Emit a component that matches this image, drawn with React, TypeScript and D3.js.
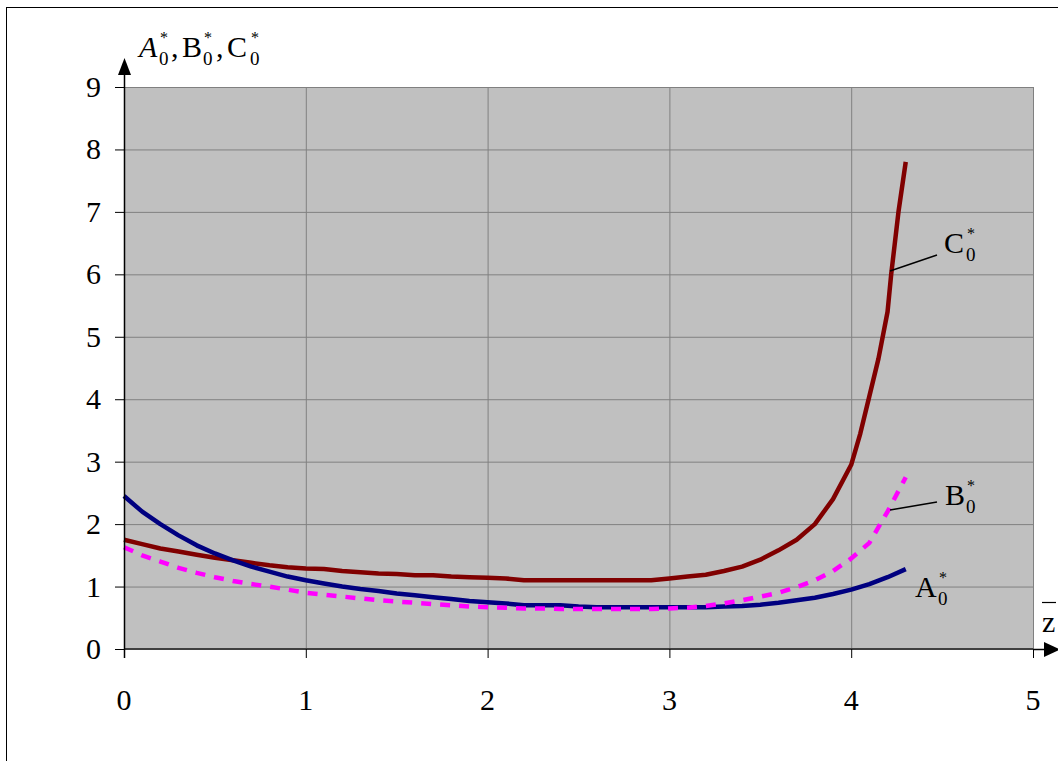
import React from "react";
import * as d3 from "d3";

const zValues = [0, 0.1, 0.2, 0.3, 0.4, 0.5, 0.6, 0.7, 0.8, 0.9, 1.0, 1.1, 1.2, 1.3, 1.4, 1.5, 1.6, 1.7, 1.8, 1.9, 2.0, 2.1, 2.2, 2.3, 2.4, 2.5, 2.6, 2.7, 2.8, 2.9, 3.0, 3.1, 3.2, 3.3, 3.4, 3.5, 3.6, 3.7, 3.8, 3.9, 4.0, 4.1, 4.2, 4.3];

const A0 = [2.45, 2.2, 2.0, 1.82, 1.66, 1.53, 1.42, 1.32, 1.24, 1.16, 1.1, 1.05, 1.0, 0.96, 0.93, 0.89, 0.86, 0.83, 0.8, 0.77, 0.75, 0.73, 0.7, 0.7, 0.7, 0.68, 0.67, 0.67, 0.67, 0.67, 0.67, 0.67, 0.67, 0.68, 0.69, 0.71, 0.74, 0.78, 0.82, 0.88, 0.95, 1.04, 1.15, 1.28];

const B0 = [1.63, 1.5, 1.4, 1.3, 1.22, 1.15, 1.09, 1.04, 1.0, 0.95, 0.9, 0.87, 0.84, 0.81, 0.78, 0.76, 0.74, 0.72, 0.7, 0.68, 0.67, 0.66, 0.65, 0.65, 0.64, 0.64, 0.64, 0.64, 0.64, 0.64, 0.65, 0.66, 0.69, 0.73, 0.78, 0.84, 0.9, 0.99, 1.1, 1.25, 1.45, 1.7, 2.2, 2.75];

const zC0 = [0, 0.1, 0.2, 0.3, 0.4, 0.5, 0.6, 0.7, 0.8, 0.9, 1.0, 1.1, 1.2, 1.3, 1.4, 1.5, 1.6, 1.7, 1.8, 1.9, 2.0, 2.1, 2.2, 2.3, 2.4, 2.5, 2.6, 2.7, 2.8, 2.9, 3.0, 3.1, 3.2, 3.3, 3.4, 3.5, 3.6, 3.7, 3.8, 3.9, 4.0, 4.05, 4.1, 4.15, 4.2, 4.22, 4.26, 4.3];
const C0 = [1.75, 1.68, 1.61, 1.56, 1.51, 1.46, 1.42, 1.38, 1.34, 1.31, 1.29, 1.28, 1.25, 1.23, 1.21, 1.2, 1.18, 1.18, 1.16, 1.15, 1.14, 1.13, 1.1, 1.1, 1.1, 1.1, 1.1, 1.1, 1.1, 1.1, 1.13, 1.16, 1.19, 1.25, 1.32, 1.43, 1.58, 1.75, 2.0, 2.4, 2.95, 3.45, 4.05, 4.65, 5.4, 6.0, 7.0, 7.8];

const xTicks = [0, 1, 2, 3, 4, 5];
const yTicks = [0, 1, 2, 3, 4, 5, 6, 7, 8, 9];

const W = 1058;
const H = 761;
const left = 124, right = 1033, top = 87, bottom = 649;
const FONT = "Liberation Serif, Times New Roman, serif";

const x = d3.scaleLinear().domain([0, 5]).range([left, right]);
const y = d3.scaleLinear().domain([0, 9]).range([bottom, top]);

const line = d3
  .line<[number, number]>()
  .x((d) => x(d[0]))
  .y((d) => y(d[1]));

// letter + subscript 0 + superscript *
function Sym({ px, py, letter, italic, w }: { px: number; py: number; letter: string; italic?: boolean; w: number }) {
  return (
    <g fontFamily={FONT} fill="#000">
      <text x={px} y={py} fontSize={30} fontStyle={italic ? "italic" : "normal"}>{letter}</text>
      <text x={px + w} y={py + 8} fontSize={19}>0</text>
      <text x={px + w + 1} y={py - 14} fontSize={16}>*</text>
    </g>
  );
}

export default function App() {
  const pA = line(zValues.map((z, i) => [z, A0[i]] as [number, number]))!;
  const pB = line(zValues.map((z, i) => [z, B0[i]] as [number, number]))!;
  const pC = line(zC0.map((z, i) => [z, C0[i]] as [number, number]))!;
  return (
    <svg width={W} height={H} style={{ position: "absolute", left: 0, top: 0, background: "#fff" }}>
      <rect x={6.5} y={7.5} width={1100} height={800} fill="#fff" stroke="#000" strokeWidth={1} />
      <rect x={left} y={top} width={right - left} height={bottom - top} fill="#c0c0c0" />
      {yTicks.map((t) => (
        <line key={"gy" + t} x1={left} x2={right} y1={y(t) + 0.5} y2={y(t) + 0.5} stroke="#808080" strokeWidth={1} />
      ))}
      {xTicks.map((t) => (
        <line key={"gx" + t} x1={x(t) + 0.5} x2={x(t) + 0.5} y1={top} y2={bottom} stroke="#808080" strokeWidth={1} />
      ))}
      {/* curves */}
      <path d={pC} fill="none" stroke="#800000" strokeWidth={4.5} strokeLinejoin="round" />
      <path d={pA} fill="none" stroke="#000080" strokeWidth={4.5} strokeLinejoin="round" />
      <path d={pB} fill="none" stroke="#ff00ff" strokeWidth={4.5} strokeDasharray="10,9" />
      {/* axes */}
      <line x1={left} x2={right} y1={bottom} y2={bottom} stroke="#404040" strokeWidth={2} />
      <line x1={left + 0.5} x2={left + 0.5} y1={bottom + 9} y2={70} stroke="#000" strokeWidth={1.5} />
      <path d={`M${left + 0.5},58 L${left - 6},75 L${left + 7},75 Z`} fill="#000" />
      <line x1={right} x2={1046} y1={bottom + 0.5} y2={bottom + 0.5} stroke="#000" strokeWidth={1.5} />
      <path d={`M1060,${bottom + 0.5} L1044,${bottom - 7} L1044,${bottom + 8} Z`} fill="#000" />
      {yTicks.map((t) => (
        <line key={"ty" + t} x1={left - 9} x2={left} y1={y(t) + 0.5} y2={y(t) + 0.5} stroke="#000" strokeWidth={1} />
      ))}
      {xTicks.map((t) => (
        <line key={"tx" + t} x1={x(t) + 0.5} x2={x(t) + 0.5} y1={bottom} y2={bottom + 9} stroke="#000" strokeWidth={1} />
      ))}
      {yTicks.map((t) => (
        <text key={"ly" + t} x={101} y={y(t) + 10} fontFamily={FONT} fontSize={30} textAnchor="end">{t}</text>
      ))}
      {xTicks.map((t) => (
        <text key={"lx" + t} x={x(t)} y={710} fontFamily={FONT} fontSize={30} textAnchor="middle">{t}</text>
      ))}
      {/* y-axis title */}
      <Sym px={139} py={57} letter="A" italic w={20} />
      <text x={171} y={57} fontFamily={FONT} fontSize={30}>,</text>
      <Sym px={182} py={57} letter="B" w={21} />
      <text x={216} y={57} fontFamily={FONT} fontSize={30}>,</text>
      <Sym px={227} py={57} letter="C" w={23} />
      {/* x-axis title */}
      <text x={1042} y={632} fontFamily={FONT} fontSize={30}>z</text>
      <line x1={1042} x2={1056} y1={602.5} y2={602.5} stroke="#000" strokeWidth={1.2} />
      {/* series labels */}
      <line x1={890} y1={271} x2={937} y2={255} stroke="#000" strokeWidth={1.5} />
      <Sym px={944} py={253} letter="C" w={22} />
      <line x1={890} y1={510} x2={937} y2={502} stroke="#000" strokeWidth={1.5} />
      <Sym px={945} py={505} letter="B" w={21} />
      <Sym px={915} py={597} letter="A" w={23} />
    </svg>
  );
}
